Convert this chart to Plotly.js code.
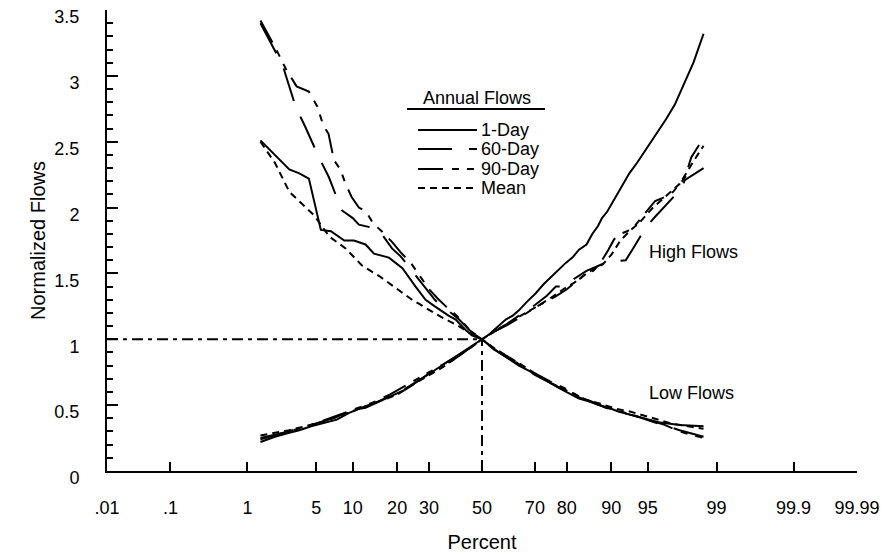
<!DOCTYPE html>
<html>
<head>
<meta charset="utf-8">
<script src="https://cdn.plot.ly/plotly-3.0.1.min.js"></script>
<style>
  html, body { margin: 0; padding: 0; background: #fff; }
  #chart { width: 884px; height: 555px; }
</style>
</head>
<body>
<div id="chart"></div>
<script>
// ---- Probability-axis tick labels (percent) ----
const percentTicks = [0.01, 0.1, 1, 5, 10, 20, 30, 50, 70, 80, 90, 95, 99, 99.9, 99.99];
const percentLabels = [".01", ".1", "1", "5", "10", "20", "30", "50", "70", "80", "90", "95", "99", "99.9", "99.99"];

// ---- Legend entries ----
const legendTitle = "Annual Flows";
const seriesNames = ["1-Day", "60-Day", "90-Day", "Mean"];

// ---- High flows (normalized annual maxima) ----
const highPct1Day = [1.4, 2.0, 2.8, 3.5, 4.5, 6.0, 7.5, 9.3, 11, 12.4, 15, 17, 20, 22.5, 25.5, 28.8, 32, 35.9, 40, 43.6, 47, 50,
  53, 56, 59.3, 62, 64.3, 67, 70.3, 73, 75.7, 78, 79.7, 81.5, 83.2, 85, 86.3, 87.5, 88.3, 89.3, 90.1, 91.5, 92.8, 93.8, 94.8, 95.8, 96.6, 97.2, 97.7, 98.2, 98.6];
const high1Day = [0.22, 0.26, 0.29, 0.31, 0.34, 0.37, 0.39, 0.44, 0.47, 0.48, 0.52, 0.55, 0.59, 0.62, 0.67, 0.72, 0.76, 0.82, 0.87, 0.92, 0.96, 1.0,
  1.04, 1.09, 1.15, 1.18, 1.22, 1.28, 1.35, 1.42, 1.48, 1.54, 1.58, 1.62, 1.68, 1.72, 1.80, 1.86, 1.92, 1.97, 2.03, 2.14, 2.26, 2.34, 2.44, 2.56, 2.67, 2.78, 2.92, 3.10, 3.32];

const highPct60Day = [1.4, 2.8, 4.5, 7, 10, 14, 18, 22, 26, 30, 35, 40, 45, 50,
  55, 60, 65, 70, 74, 76.8, 79.7, 82, 85, 87, 88.9, 90.5, 92.3, 93.2, 94.8, 95.7, 96.6, 97.5, 97.8, 98.2, 98.6];
const high60Day = [0.24, 0.30, 0.35, 0.40, 0.46, 0.51, 0.57, 0.62, 0.68, 0.74, 0.80, 0.86, 0.93, 1.0,
  1.06, 1.12, 1.19, 1.26, 1.33, 1.40, 1.40, 1.46, 1.52, 1.55, 1.58, 1.59, 1.60, 1.68, 1.85, 1.93, 2.02, 2.13, 2.21, 2.25, 2.30];

const highPct90Day = [1.4, 2.8, 4.5, 7, 10, 14, 18, 22, 26, 30, 35, 40, 45, 50,
  55, 60, 65, 70, 74, 77, 80, 83, 85, 86.5, 88, 89.5, 90.5, 91.5, 92.5, 93.5, 94.5, 95.7, 96.5, 97.1, 97.8, 98.1, 98.6];
const high90Day = [0.25, 0.30, 0.35, 0.41, 0.46, 0.52, 0.58, 0.64, 0.70, 0.75, 0.81, 0.87, 0.93, 1.0,
  1.06, 1.11, 1.17, 1.24, 1.29, 1.33, 1.38, 1.45, 1.50, 1.52, 1.58, 1.68, 1.76, 1.80, 1.82, 1.86, 1.94, 2.05, 2.08, 2.12, 2.23, 2.38, 2.53];

const highPctMean = [1.4, 2.0, 2.8, 4, 6, 8, 11, 15, 20, 25, 30, 35, 40, 45, 50,
  55, 60, 65, 70, 75, 79, 82, 85, 87, 88.5, 90, 91.5, 93, 94, 95.5, 96.5, 97.5, 98.2, 98.6];
const highMean = [0.27, 0.29, 0.31, 0.34, 0.38, 0.42, 0.47, 0.52, 0.58, 0.66, 0.73, 0.79, 0.86, 0.93, 1.0,
  1.06, 1.12, 1.18, 1.24, 1.31, 1.38, 1.43, 1.50, 1.54, 1.57, 1.64, 1.75, 1.83, 1.88, 2.00, 2.08, 2.18, 2.35, 2.47];

// ---- Low flows (normalized annual minima) ----
const lowPct1Day = [1.4, 2.0, 2.8, 3.5, 4.3, 5.5, 6.7, 8.6, 10.2, 12.4, 14.2, 17.8, 21.5, 25.5, 28.8, 32, 34.6, 37, 39.7, 43.6, 46, 50,
  56.7, 60, 64.3, 68, 71.4, 75, 77.8, 80, 83.2, 85.5, 87.7, 89.5, 91.3, 92.8, 94, 95, 96, 97.5, 98.6];
const low1Day = [2.51, 2.40, 2.29, 2.26, 2.22, 1.83, 1.82, 1.75, 1.75, 1.72, 1.65, 1.62, 1.54, 1.40, 1.30, 1.25, 1.21, 1.18, 1.15, 1.07, 1.03, 1.0,
  0.90, 0.86, 0.80, 0.76, 0.72, 0.67, 0.63, 0.60, 0.55, 0.53, 0.50, 0.48, 0.45, 0.43, 0.41, 0.39, 0.37, 0.35, 0.34];

const lowPct60Day = [1.4, 1.8, 2.4, 3.25, 4.0, 5.3, 6.45, 8.2, 10, 11.1, 14.7, 16, 18.6, 21, 25, 29, 32, 35, 38, 41, 45, 50,
  55, 60, 65, 70, 75, 80, 83, 86, 89, 92, 94, 96, 97.5, 98.6];
const low60Day = [3.40, 3.25, 3.08, 2.76, 2.61, 2.38, 2.23, 1.98, 1.92, 1.87, 1.84, 1.80, 1.69, 1.63, 1.50, 1.38, 1.30, 1.24, 1.20, 1.15, 1.07, 1.0,
  0.92, 0.86, 0.80, 0.73, 0.67, 0.60, 0.56, 0.53, 0.48, 0.44, 0.41, 0.36, 0.31, 0.26];

const lowPct90Day = [1.4, 2.0, 2.6, 3.3, 4.3, 5.1, 5.8, 6.4, 7.1, 8.0, 8.8, 9.8, 11.1, 12.5, 14, 16, 18.6, 21, 24, 27, 30, 33, 36, 39, 42, 46, 50,
  55, 60, 65, 70, 75, 80, 84, 87, 90, 93, 95, 96.5, 97.5, 98.6];
const low90Day = [3.42, 3.22, 3.05, 2.92, 2.88, 2.77, 2.62, 2.56, 2.36, 2.29, 2.18, 2.08, 2.00, 1.97, 1.88, 1.82, 1.74, 1.66, 1.58, 1.48, 1.38, 1.31, 1.25, 1.20, 1.14, 1.05, 1.0,
  0.92, 0.87, 0.80, 0.74, 0.68, 0.62, 0.55, 0.51, 0.47, 0.43, 0.39, 0.35, 0.30, 0.25];

const lowPctMean = [1.4, 2.0, 2.8, 3.7, 4.8, 6.5, 8.8, 11.7, 15.4, 19.6, 24.4, 28, 31, 35, 40, 45, 50,
  55, 60, 65, 70, 75, 80, 85, 88, 91, 93, 95, 97, 98.6];
const lowMean = [2.50, 2.34, 2.12, 2.03, 1.94, 1.78, 1.69, 1.56, 1.48, 1.39, 1.30, 1.25, 1.21, 1.16, 1.11, 1.05, 1.0,
  0.93, 0.87, 0.81, 0.74, 0.67, 0.61, 0.54, 0.51, 0.47, 0.45, 0.41, 0.36, 0.32];

// Median reference: normalized flow of 1 at the 50 percent point
const refLevel = 1;
const refPercent = 50;

// ---- Normal probability scale: percent -> standard normal quantile (Acklam) ----
function normInv(p) {
  const a = [-3.969683028665376e+01, 2.209460984245205e+02, -2.759285104469687e+02, 1.383577518672690e+02, -3.066479806614716e+01, 2.506628277459239e+00];
  const b = [-5.447609879822406e+01, 1.615858368580409e+02, -1.556989798598866e+02, 6.680131188771972e+01, -1.328068155288572e+01];
  const c = [-7.784894002430293e-03, -3.223964580411365e-01, -2.400758277161838e+00, -2.549732539343734e+00, 4.374664141464968e+00, 2.938163982698783e+00];
  const d = [7.784695709041462e-03, 3.224671290700398e-01, 2.445134137142996e+00, 3.754408661907416e+00];
  const pl = 0.02425, ph = 1 - pl;
  let q, r;
  if (p < pl) {
    q = Math.sqrt(-2 * Math.log(p));
    return (((((c[0]*q + c[1])*q + c[2])*q + c[3])*q + c[4])*q + c[5]) / ((((d[0]*q + d[1])*q + d[2])*q + d[3])*q + 1);
  }
  if (p <= ph) {
    q = p - 0.5; r = q * q;
    return (((((a[0]*r + a[1])*r + a[2])*r + a[3])*r + a[4])*r + a[5])*q / (((((b[0]*r + b[1])*r + b[2])*r + b[3])*r + b[4])*r + 1);
  }
  q = Math.sqrt(-2 * Math.log(1 - p));
  return -(((((c[0]*q + c[1])*q + c[2])*q + c[3])*q + c[4])*q + c[5]) / ((((d[0]*q + d[1])*q + d[2])*q + d[3])*q + 1);
}
const toZ = pct => normInv(pct / 100);

// ---- Line styles per duration ----
const INK = '#000';
const dashStyles = ['solid', '34px,17px', '25px,9px,7px,8px,7px,9px', '7px,5px'];
const refDash = '11px,5px,4px,5px';

function curve(pcts, vals, dash) {
  return {
    x: pcts.map(toZ), y: vals, type: 'scatter', mode: 'lines',
    line: { color: INK, width: 2, dash: dash },
    hoverinfo: 'skip', showlegend: false
  };
}

const traces = [
  curve(lowPct1Day, low1Day, dashStyles[0]),
  curve(lowPct60Day, low60Day, dashStyles[1]),
  curve(lowPct90Day, low90Day, dashStyles[2]),
  curve(lowPctMean, lowMean, dashStyles[3]),
  curve(highPct1Day, high1Day, dashStyles[0]),
  curve(highPct60Day, high60Day, dashStyles[1]),
  curve(highPct90Day, high90Day, dashStyles[2]),
  curve(highPctMean, highMean, dashStyles[3])
];

// ---- Plot-area geometry helpers (pixel -> paper) ----
const PLOT = { l: 107, r: 857, t: 10, b: 471 };
const px = x => (x - PLOT.l) / (PLOT.r - PLOT.l);
const py = y => (PLOT.b - y) / (PLOT.b - PLOT.t);

const FONT = '"Liberation Sans", Arial, Helvetica, sans-serif';
const TEXT_SIZE = 18;
const TITLE_SIZE = 20;

const xMin = toZ(percentTicks[0]);
const xMax = toZ(percentTicks[percentTicks.length - 1]);

// Reference lines through the median point
const shapes = [
  { type: 'line', xref: 'x', yref: 'y', x0: xMin, x1: toZ(refPercent), y0: refLevel, y1: refLevel,
    line: { color: INK, width: 2, dash: refDash } },
  { type: 'line', xref: 'x', yref: 'y', x0: toZ(refPercent), x1: toZ(refPercent), y0: 0, y1: refLevel,
    line: { color: INK, width: 2, dash: refDash } },
  // legend header underline
  { type: 'line', xref: 'paper', yref: 'paper', x0: px(407), x1: px(545), y0: py(109), y1: py(109),
    line: { color: INK, width: 2 } }
];

const annotations = [
  { xref: 'paper', yref: 'paper', x: px(477), y: py(98), text: legendTitle, showarrow: false,
    xanchor: 'center', yanchor: 'middle', font: { family: FONT, size: TEXT_SIZE, color: INK } },
  { xref: 'paper', yref: 'paper', x: px(647), y: py(252), text: 'High Flows', showarrow: false,
    xanchor: 'left', yanchor: 'middle', font: { family: FONT, size: TEXT_SIZE, color: INK } },
  { xref: 'paper', yref: 'paper', x: px(647), y: py(393), text: 'Low Flows', showarrow: false,
    xanchor: 'left', yanchor: 'middle', font: { family: FONT, size: TEXT_SIZE, color: INK } }
];

// Hand-built legend: sample line + label for each duration
const legendRows = [130, 149, 169, 188];
seriesNames.forEach((name, i) => {
  shapes.push({ type: 'line', xref: 'paper', yref: 'paper', x0: px(418), x1: px(477),
    y0: py(legendRows[i]), y1: py(legendRows[i]), line: { color: INK, width: 2, dash: dashStyles[i] } });
  annotations.push({ xref: 'paper', yref: 'paper', x: px(479), y: py(legendRows[i]), text: name,
    showarrow: false, xanchor: 'left', yanchor: 'middle', font: { family: FONT, size: TEXT_SIZE, color: INK } });
});

const layout = {
  width: 884, height: 555,
  margin: { l: PLOT.l, r: 884 - PLOT.r, t: PLOT.t, b: 555 - PLOT.b, pad: 0 },
  paper_bgcolor: '#fff', plot_bgcolor: '#fff',
  font: { family: FONT, size: TEXT_SIZE, color: INK },
  showlegend: false,
  xaxis: {
    range: [xMin, xMax],
    tickmode: 'array',
    tickvals: percentTicks.map(toZ),
    ticktext: percentLabels,
    ticks: 'inside', ticklen: 9, tickwidth: 2, tickcolor: INK,
    showline: true, linewidth: 2, linecolor: INK,
    showgrid: false, zeroline: false,
    ticklabelstandoff: 19,
    ticklabeloverflow: 'allow',
    tickfont: { family: FONT, size: TEXT_SIZE, color: INK },
    title: { text: 'Percent', standoff: 18, font: { family: FONT, size: TITLE_SIZE, color: INK } },
    fixedrange: true
  },
  yaxis: {
    range: [0, 3.5],
    tick0: 0, dtick: 0.5,
    ticks: 'inside', ticklen: 11, tickwidth: 2, tickcolor: INK,
    minor: { dtick: 0.1, ticks: 'inside', ticklen: 6, tickwidth: 2, tickcolor: INK, showgrid: false },
    showline: true, linewidth: 2, linecolor: INK,
    showgrid: false, zeroline: false,
    ticklabelstandoff: 22,
    ticklabelshift: 7,
    ticklabeloverflow: 'allow',
    tickfont: { family: FONT, size: TEXT_SIZE, color: INK },
    title: { text: 'Normalized Flows', standoff: 3, font: { family: FONT, size: TITLE_SIZE, color: INK } },
    fixedrange: true
  },
  shapes: shapes,
  annotations: annotations
};

Plotly.newPlot('chart', traces, layout, { displayModeBar: false, staticPlot: true });
</script>
</body>
</html>
